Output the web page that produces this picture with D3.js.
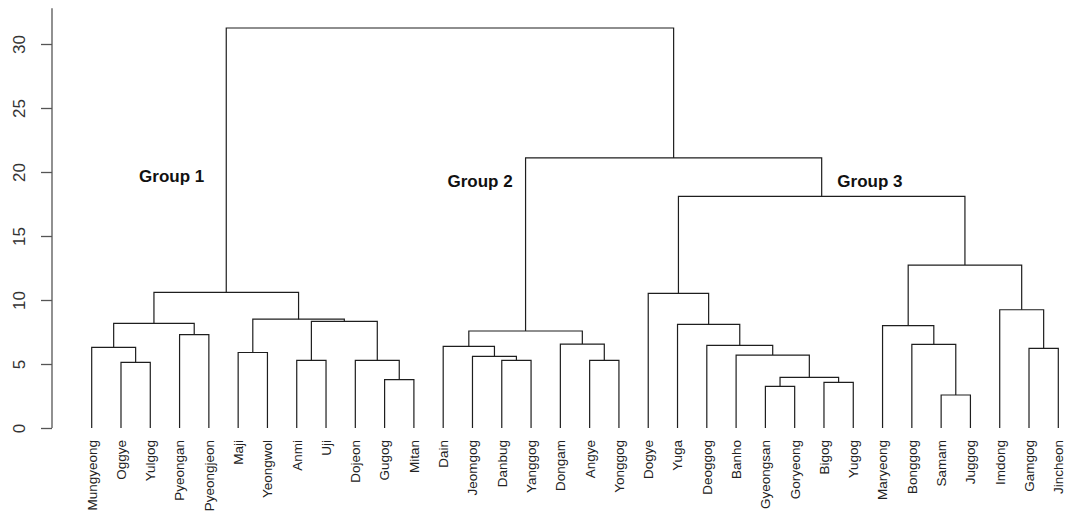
<!DOCTYPE html>
<html>
<head>
<meta charset="utf-8">
<script src="https://cdn.jsdelivr.net/npm/d3@7"></script>
<style>
  html, body { margin: 0; padding: 0; background: #fff; }
  svg { display: block; }
</style>
</head>
<body>
<svg id="chart" width="1068" height="512"></svg>
<script>
// Leaf labels in dendrogram order
const leaves = ["Mungyeong","Oggye","Yulgog","Pyeongan","Pyeongjeon","Maji","Yeongwol","Anmi","Uji","Dojeon","Gugog","Mitan",
  "Dain","Jeomgog","Danbug","Yanggog","Dongam","Angye","Yonggog",
  "Dogye","Yuga","Deoggog","Banho","Gyeongsan","Goryeong","Bigog","Yugog",
  "Maryeong","Bonggog","Samam","Juggog","Imdong","Gamgog","Jincheon"];

// Merge steps (R hclust style): negative = leaf (-(index+1)), positive = earlier merge number
const mergeLeft  = [-30,-24,-26,-11, 2, -2, -8,-15,-18,-10,-14,-23, -6,-33, -1,-13,-22,-29,-17, -4,16,-28,-21,15, 7,13,-32,-20,24,22,28,21,29];
const mergeRight = [-31,-25,-27,-12, 3, -3, -9,-16,-19,  4,  8,  5, -7,-34,  6, 11, 12,  1,  9, -5,19, 18, 17,20,10,25, 14, 23,26,27,30,31,32];
const mergeHeight = [2.58,3.25,3.57,3.78,3.96,5.13,5.28,5.28,5.28,5.28,5.6,5.7,5.9,6.22,6.3,6.38,6.46,6.54,6.56,7.3,7.58,8.0,8.1,8.18,8.33,8.5,9.24,10.52,10.6,12.73,18.1,21.1,31.25];

const yTicks = [0,5,10,15,20,25,30];

const groupLabels = ["Group 1","Group 2","Group 3"];
const groupPos = [2.73, 13.26, 26.57];   // in leaf-index units
const groupHeight = [19.2, 18.8, 18.8];

const svg = d3.select("#chart");
const x = d3.scaleLinear().domain([0, leaves.length - 1]).range([91.7, 1058.3]);
const y = d3.scaleLinear().domain([0, 30]).range([428, 44]);

const lineColor = "#1e1e1e";

// compute node positions
const nodeX = [], nodeH = [];
function pos(id) {
  if (id < 0) return { x: x(-id - 1), h: 0 };
  return { x: nodeX[id - 1], h: nodeH[id - 1] };
}
const g = svg.append("g");
mergeHeight.forEach((h, i) => {
  const a = pos(mergeLeft[i]), b = pos(mergeRight[i]);
  nodeX.push((a.x + b.x) / 2);
  nodeH.push(h);
  const path = d3.path();
  path.moveTo(a.x, y(a.h));
  path.lineTo(a.x, y(h));
  path.lineTo(b.x, y(h));
  path.lineTo(b.x, y(b.h));
  g.append("path").attr("d", path.toString())
    .attr("fill", "none").attr("stroke", lineColor).attr("stroke-width", 1.2);
});

// Y axis
const axisX = 52;
const ax = svg.append("g").attr("transform", `translate(${axisX},0)`)
  .call(d3.axisLeft(y).tickValues(yTicks).tickSize(11).tickSizeOuter(0));
ax.select(".domain").remove();
ax.append("line").attr("x1", 0).attr("x2", 0).attr("y1", y(0)).attr("y2", y(32.8))
  .attr("stroke", "#555").attr("stroke-width", 1.3);
ax.selectAll(".tick line").attr("stroke", "#555").attr("stroke-width", 1.3);
ax.selectAll(".tick text")
  .attr("x", null).attr("y", null).attr("dy", "0.36em")
  .attr("transform", "translate(-33,0) rotate(-90)")
  .attr("text-anchor", "middle")
  .attr("fill", "#333")
  .style("font-family", "'Liberation Sans', Arial, sans-serif")
  .style("font-size", "17px");

// Leaf labels
svg.append("g").selectAll("text").data(leaves).join("text")
  .attr("transform", (d, i) => `translate(${x(i)},440) rotate(-90)`)
  .attr("dy", "0.36em")
  .attr("text-anchor", "end")
  .attr("fill", "#222")
  .style("font-family", "'Liberation Sans', Arial, sans-serif")
  .style("font-size", "13.5px")
  .text(d => d);

// Group labels
svg.append("g").selectAll("text").data(groupLabels).join("text")
  .attr("x", (d, i) => x(groupPos[i]))
  .attr("y", (d, i) => y(groupHeight[i]))
  .attr("text-anchor", "middle")
  .attr("fill", "#111")
  .style("font-family", "'Liberation Sans', Arial, sans-serif")
  .style("font-weight", "bold")
  .style("font-size", "17px")
  .text(d => d);
</script>
</body>
</html>
